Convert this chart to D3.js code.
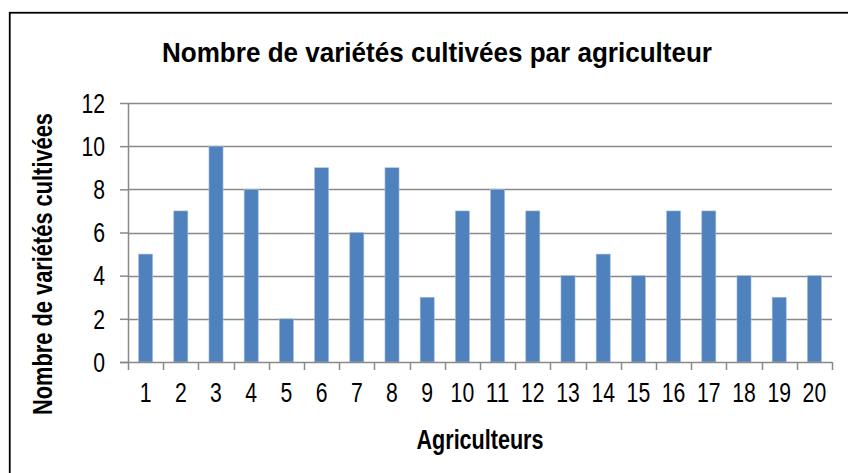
<!DOCTYPE html>
<html>
<head>
<meta charset="utf-8">
<script src="https://cdn.jsdelivr.net/npm/d3@7"></script>
<style>
  body { margin: 0; background: #fff; }
  svg { display: block; font-family: "Liberation Sans", Arial, sans-serif; }
</style>
</head>
<body>
<div id="chart"></div>
<script>
// Chart data
const farmers = ["1","2","3","4","5","6","7","8","9","10","11","12","13","14","15","16","17","18","19","20"];
const varieties = [5, 7, 10, 8, 2, 9, 6, 9, 3, 7, 8, 7, 4, 5, 4, 7, 7, 4, 3, 4];
const yTicks = [0, 2, 4, 6, 8, 10, 12];

const width = 848, height = 473;
const margin = {top: 103, right: 16, bottom: 111, left: 128};

// narrow look: squeeze Liberation Sans glyphs horizontally
const digitW = 11.8;
const narrow = (sel, w) => sel
  .attr("textLength", function() { return w(this.textContent); })
  .attr("lengthAdjust", "spacingAndGlyphs");

const svg = d3.select("#chart").append("svg")
  .attr("width", width).attr("height", height);

// Outer frame (right and bottom edges fall outside the picture)
svg.append("rect")
  .attr("x", 9.75).attr("y", 12.75)
  .attr("width", 860).attr("height", 480)
  .attr("fill", "none").attr("stroke", "#000").attr("stroke-width", 1.8);

// Scales
const x = d3.scaleBand()
  .domain(farmers)
  .range([margin.left, width - margin.right])
  .paddingInner(0.6).paddingOuter(0.3);

const xOuter = d3.scaleBand()
  .domain(farmers)
  .range([margin.left, width - margin.right]);

const y = d3.scaleLinear()
  .domain([0, 12])
  .range([height - margin.bottom, margin.top]);

// Gridlines
svg.append("g")
  .selectAll("line")
  .data(yTicks.filter(d => d > 0))
  .enter().append("line")
    .attr("x1", margin.left).attr("x2", width - margin.right)
    .attr("y1", d => Math.round(y(d)) + 0.5).attr("y2", d => Math.round(y(d)) + 0.5)
    .attr("stroke", "#898989").attr("stroke-width", 1.5);

// Bars
svg.append("g")
  .selectAll("rect")
  .data(varieties)
  .enter().append("rect")
    .attr("x", (d, i) => x(farmers[i]))
    .attr("width", x.bandwidth())
    .attr("y", d => y(d))
    .attr("height", d => y(0) - y(d))
    .attr("fill", "#4f81bd")
    .attr("stroke", "#a7c0de").attr("stroke-width", 0.6);

// Y axis
const yAxis = svg.append("g")
  .attr("transform", `translate(${margin.left},0)`)
  .call(d3.axisLeft(y).tickValues(yTicks).tickSize(8).tickPadding(15));
yAxis.selectAll("line").attr("stroke", "#898989").attr("stroke-width", 1.5);
yAxis.select(".domain").attr("stroke", "#898989").attr("stroke-width", 1.5)
  .attr("d", `M0.5,${y(12)}V${y(0)}`);
yAxis.selectAll("text").attr("font-size", 27).attr("fill", "#000")
  .attr("font-family", "inherit").attr("dy", "0.34em")
  .call(narrow, t => t.length * digitW);

// X axis
const xAxis = svg.append("g")
  .attr("transform", `translate(0,${y(0)})`)
  .call(d3.axisBottom(xOuter).tickSize(0).tickPadding(21));
xAxis.select(".domain").attr("stroke", "#898989").attr("stroke-width", 1.5)
  .attr("d", `M${margin.left - 8},0.5H${width - margin.right}`);
xAxis.selectAll("text").attr("font-size", 27).attr("fill", "#000")
  .attr("font-family", "inherit")
  .call(narrow, t => t.length * digitW);

// Category boundary ticks
svg.append("g")
  .selectAll("line")
  .data(d3.range(farmers.length + 1))
  .enter().append("line")
    .attr("x1", i => Math.round(margin.left + i * xOuter.step()) + 0.5)
    .attr("x2", i => Math.round(margin.left + i * xOuter.step()) + 0.5)
    .attr("y1", y(0)).attr("y2", y(0) + 8)
    .attr("stroke", "#898989").attr("stroke-width", 1.5);

// Title
svg.append("text")
  .attr("x", 437).attr("y", 62)
  .attr("text-anchor", "middle")
  .attr("font-size", 27).attr("font-weight", "bold")
  .attr("textLength", 550).attr("lengthAdjust", "spacingAndGlyphs")
  .text("Nombre de variétés cultivées par agriculteur");

// Axis titles
svg.append("text")
  .attr("x", (margin.left + width - margin.right) / 2).attr("y", 449)
  .attr("text-anchor", "middle")
  .attr("font-size", 27).attr("font-weight", "bold")
  .attr("textLength", 127).attr("lengthAdjust", "spacingAndGlyphs")
  .text("Agriculteurs");

svg.append("text")
  .attr("transform", "translate(52,264) rotate(-90)")
  .attr("text-anchor", "middle")
  .attr("font-size", 27).attr("font-weight", "bold")
  .attr("textLength", 302).attr("lengthAdjust", "spacingAndGlyphs")
  .text("Nombre de variétés cultivées");
</script>
</body>
</html>
